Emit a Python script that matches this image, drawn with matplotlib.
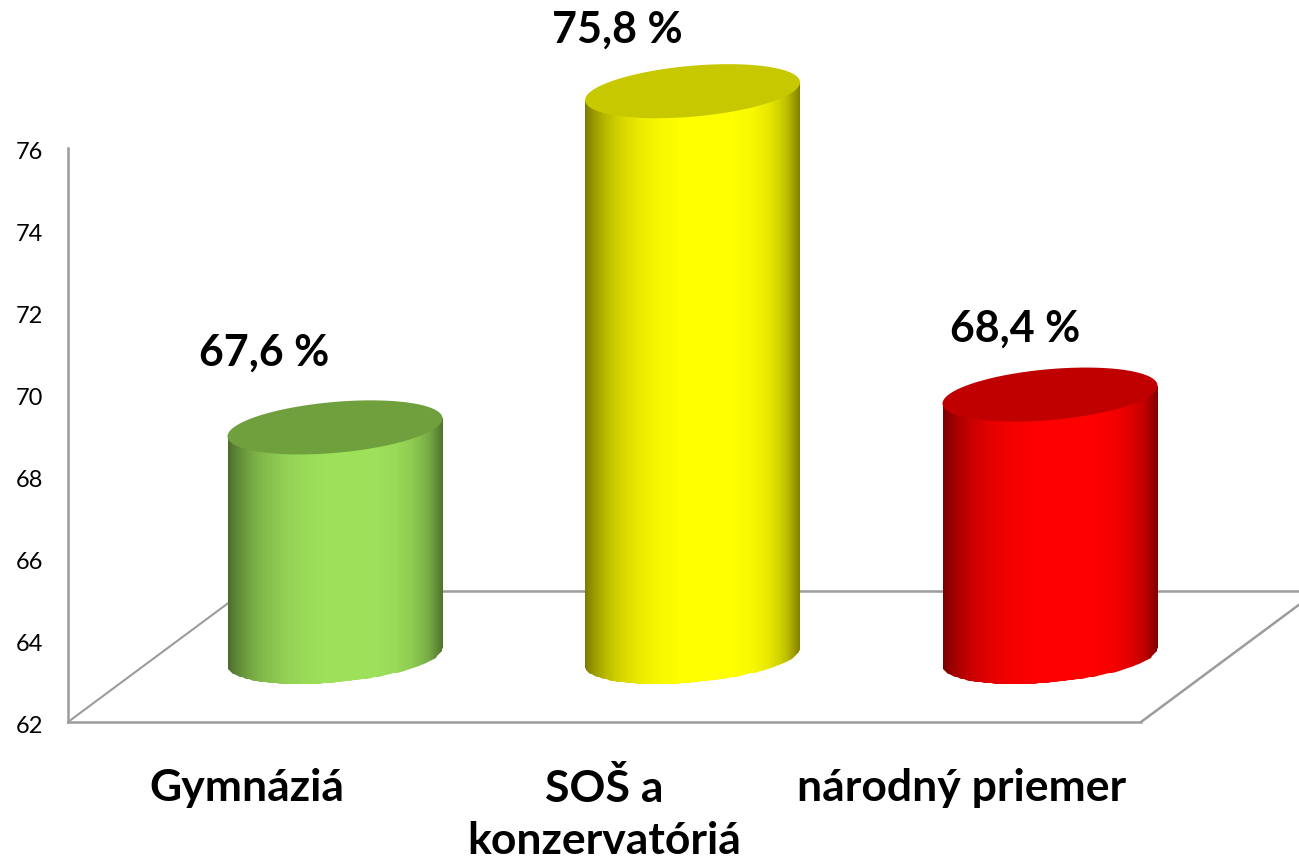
import numpy as np
import matplotlib
matplotlib.use("Agg")
import matplotlib.pyplot as plt
from matplotlib.patches import PathPatch
from matplotlib.path import Path
from matplotlib.transforms import ScaledTranslation

categories = ["Gymnáziá", "SOŠ a\nkonzervatóriá", "národný priemer"]
values = [67.6, 75.8, 68.4]
value_labels = ["67,6 %", "75,8 %", "68,4 %"]
y_ticks = [62, 64, 66, 68, 70, 72, 74, 76]

body_colors = ["#9de05a", "#ffff00", "#ff0000"]
top_colors = ["#709f3e", "#c8c800", "#c00000"]
line_color = "#9c9c9c"

W, H = 1299, 862
plt.rcParams["font.family"] = ["Lato", "DejaVu Sans"]
fig = plt.figure(figsize=(W / 100, H / 100), dpi=100, facecolor="white")

# axes: value 62 at pixel row 723, value 76 at pixel row 149
Y62, Y76 = 723, 149
ax = fig.add_axes([68 / W, (H - Y62) / H, (W - 68) / W, (Y62 - Y76) / H])
px_cat = 357.5
x0 = (68 - 335) / px_cat
x1 = (W - 335) / px_cat
ax.set_xlim(x0, x1)
ax.set_ylim(62, 76)
px_val = (Y62 - Y76) / 14

# pseudo-3D geometry
half_w = 107.5 / px_cat
ell_b = 25.5 / px_val
ell_s = 9 / px_val
lift = 65 / px_val
base_y = 62 + 65 / px_val
depth_y = 131 / px_val
depth_x = 176.5 / px_cat
front_right = (1141 - 335) / px_cat

# floor lines
ax.plot([x0, x0 + depth_x], [62, 62 + depth_y], color=line_color, lw=1.5, zorder=1)
ax.plot([x0 + depth_x, x1], [62 + depth_y] * 2, color=line_color, lw=1.8, zorder=1)
ax.plot([front_right, front_right + depth_x], [62, 62 + depth_y], color=line_color, lw=1.8, zorder=1)

stops_x = [0, .02, .05, .09, .14, .20, .27, .35, .45, .55, .68, .78, .85, .90, .94, .97, 1]
stops_f = [.48, .54, .62, .71, .80, .87, .93, .97, 1, 1, 1, .97, .91, .83, .74, .62, .50]
t = np.linspace(0, np.pi, 80)

for i, (v, bc, tc) in enumerate(zip(values, body_colors, top_colors)):
    top = v + lift
    # body outline: down the left side, along the lower ellipse, up the right side
    bx = i + half_w * np.cos(t[::-1])
    by = base_y - ell_b * np.sin(t[::-1]) + ell_s * np.cos(t[::-1])
    outline = np.vstack([[i - half_w, top - ell_s], np.c_[bx, by],
                         [i + half_w, top + ell_s], [i - half_w, top - ell_s]])
    clip = PathPatch(Path(outline), transform=ax.transData, fc="none", ec="none")
    clip.set_clip_on(False)
    ax.add_patch(clip)

    edges = np.linspace(i - half_w, i + half_w, 216)
    frac = (edges[:-1] + edges[1:]) / 2
    frac = (frac - edges[0]) / (edges[-1] - edges[0])
    shade = np.interp(frac, stops_x, stops_f)
    rgb = np.outer(shade, matplotlib.colors.to_rgb(bc))[None, :, :]
    mesh = ax.pcolormesh(edges, [base_y - ell_b - ell_s - .1, top + ell_s + .1], rgb, zorder=3)
    mesh.set_clip_box(fig.bbox)
    mesh.set_clip_path(clip)

    # top ellipse
    tt = np.linspace(0, 2 * np.pi, 200)
    ax.fill(i + half_w * np.cos(tt), top + ell_b * np.sin(tt) + ell_s * np.cos(tt),
            color=tc, lw=0, zorder=4, clip_on=False)

ax.set_xlim(x0, x1)
ax.set_ylim(62, 76)

# value labels, hand-placed as in the original
label_x = [(264 - 335) / px_cat, (617 - 335) / px_cat, (1015 - 335) / px_cat]
label_y = [62 + (Y62 - 353) / px_val, 62 + (Y62 - 30) / px_val, 62 + (Y62 - 329) / px_val]
for x, y, s in zip(label_x, label_y, value_labels):
    ax.text(x, y, s, ha="center", va="center", fontsize=31, fontweight="bold",
            color="black", clip_on=False, zorder=5)

# axes furniture
for side in ("top", "right"):
    ax.spines[side].set_visible(False)
for side in ("left", "bottom"):
    ax.spines[side].set_color(line_color)
    ax.spines[side].set_linewidth(1.8)
ax.spines["bottom"].set_bounds(x0, front_right)
ax.patch.set_alpha(0)
ax.set_yticks(y_ticks)
ax.tick_params(axis="y", length=0, pad=18, labelsize=17, labelcolor="black")
nudge = ScaledTranslation(0, -2 / 100, fig.dpi_scale_trans)
for lab in ax.get_yticklabels():
    lab.set_transform(lab.get_transform() + nudge)
ax.set_xticks([i - 0.246 for i in range(3)], categories)
ax.tick_params(axis="x", length=0, pad=32.5, labelsize=32)
for lab in ax.get_xticklabels():
    lab.set_fontweight("bold")
    lab.set_linespacing(1.36)

fig.savefig("out.png", dpi=100)
